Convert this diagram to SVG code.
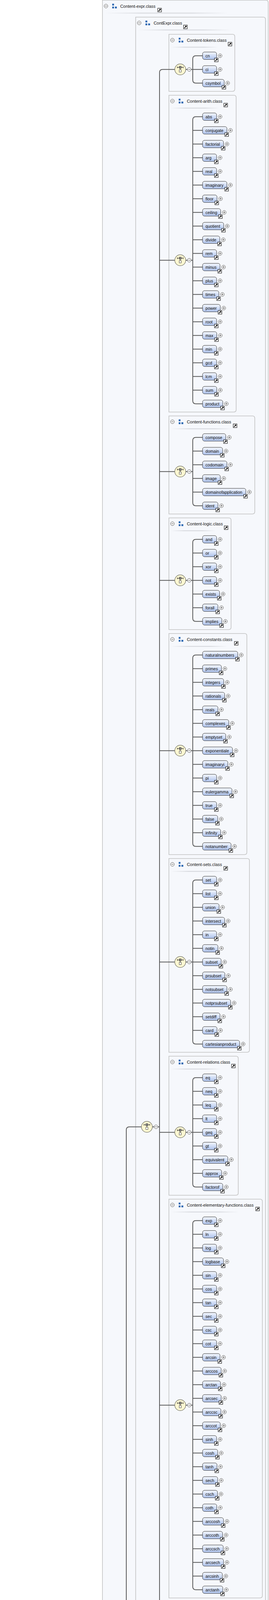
<svg xmlns="http://www.w3.org/2000/svg" width="688" height="6943" viewBox="0 0 688 6943">
<style>
text{font-family:"Liberation Sans",Arial,sans-serif;font-size:10.6px;fill:#111}
.ht{font-size:10.9px}
.gb{fill:#f6f8fc;stroke:#c2c2c2;stroke-width:1.6}
.el>rect{fill:url(#eg);stroke:#333;stroke-width:1}
.sep{fill:url(#sg)}
.cx path{fill:none;stroke:#5a5a5a;stroke-width:2}
</style>
<defs>
<linearGradient id="eg" x1="0" y1="0" x2="0" y2="1"><stop offset="0" stop-color="#f5f8fe"/><stop offset="1" stop-color="#adc2ec"/></linearGradient>
<linearGradient id="sg" x1="0" y1="0" x2="1" y2="0"><stop offset="0" stop-color="#f6f8fc"/><stop offset="0.3" stop-color="#d3d5da"/><stop offset="0.7" stop-color="#d3d5da"/><stop offset="1" stop-color="#f6f8fc"/></linearGradient>
<g id="sc"><rect x="0.5" y="0.5" width="9.5" height="9.5" fill="#fff" stroke="#000"/><path d="M2.5,8L6.3,4.2" stroke="#000" stroke-width="1.8"/><path d="M3.8,2.2H8.2V6.6Z" fill="#000"/></g>
<g id="pl"><circle r="4.8" fill="#fff" stroke="#444" stroke-width="0.9"/><path d="M-2.8,0H2.8M0,-2.8V2.8" stroke="#333" stroke-width="0.9"/></g>
<g id="mi"><circle r="4.8" fill="#fff" stroke="#444" stroke-width="0.9"/><path d="M-2.8,0H2.8" stroke="#333" stroke-width="0.9"/></g>
<g id="gi" fill="#2b67b1"><rect width="4.6" height="4.6"/><rect y="7.4" width="4.6" height="4.6"/><rect x="7" y="7.4" width="4.8" height="4.6"/></g>
<g id="ch"><ellipse rx="14" ry="14" fill="#fcf7d2" stroke="#6d6d5f" stroke-width="1.2"/><path d="M-7.5,-5.2H7.5M-7.5,-7.4V-3M7.5,-7.4V-3M0,-3V1" stroke="#222" stroke-width="1" fill="none"/><rect x="-2.7" y="-8" width="5.4" height="5.2" fill="#8c8c8c" stroke="#222" stroke-width="0.8"/><rect x="-2.7" y="1" width="5.4" height="5.8" fill="#fff" stroke="#222" stroke-width="0.8"/></g>
<g id="sq"><ellipse rx="14" ry="14" fill="#fcf7d2" stroke="#6d6d5f" stroke-width="1.2"/><path d="M-10,2H-6M6,-2H10" stroke="#222" stroke-width="1" fill="none"/><rect x="-6" y="-1" width="7" height="6" fill="#8c8c8c" stroke="#222" stroke-width="0.8"/><rect x="-1" y="-5" width="7" height="6" fill="#9a9a9a" stroke="#222" stroke-width="0.8"/></g>
</defs>
<rect width="688" height="6943" fill="#fff"/>

<g id="boxes">
<g id="g-Content-expr" transform="translate(262,0.5)"><path class="gb" d="M0,0H418Q424,0 424,6V6814Q424,6820 418,6820H0Z"/><use href="#mi" x="9" y="15"/><use href="#gi" x="25" y="9"/><text class="ht" x="45.5" y="19">Content-expr.class</text><use href="#sc" x="141" y="20"/><rect class="sep" x="6" y="32" width="316" height="2"/></g>
<g id="g-ContExpr" transform="translate(347,43.7)"><path class="gb" d="M0,0H326Q332,0 332,6V5562.5Q332,5568.5 326,5568.5H0Z"/><use href="#mi" x="9" y="15"/><use href="#gi" x="25" y="9"/><text class="ht" x="46" y="19">ContExpr.class</text><use href="#sc" x="122" y="20"/><rect class="sep" x="5" y="32" width="241" height="2"/></g>
<g id="g-Content-tokens" transform="translate(432,87.7)"><path class="gb" d="M0,0H162.5Q168.5,0 168.5,6V140Q168.5,146 162.5,146H0Z"/><use href="#mi" x="9" y="15"/><use href="#gi" x="25" y="9"/><text class="ht" x="46" y="19">Content-tokens.class</text><use href="#sc" x="151" y="20"/><rect class="sep" x="5" y="32" width="121.4" height="2"/></g>
<g id="g-Content-arith" transform="translate(432,243.7)"><path class="gb" d="M0,0H166Q172,0 172,6V805Q172,811 166,811H0Z"/><use href="#mi" x="9" y="15"/><use href="#gi" x="25" y="9"/><text class="ht" x="46" y="19">Content-arith.class</text><use href="#sc" x="140" y="20"/><rect class="sep" x="5" y="32" width="124" height="2"/></g>
<g id="g-Content-functions" transform="translate(432,1064.7)"><path class="gb" d="M0,0H213.6Q219.6,0 219.6,6V245Q219.6,251 213.6,251H0Z"/><use href="#mi" x="9" y="15"/><use href="#gi" x="25" y="9"/><text class="ht" x="46" y="19">Content-functions.class</text><use href="#sc" x="164" y="20"/><rect class="sep" x="5" y="32" width="159.7" height="2"/></g>
<g id="g-Content-logic" transform="translate(432,1325.7)"><path class="gb" d="M0,0H153Q159,0 159,6V280Q159,286 153,286H0Z"/><use href="#mi" x="9" y="15"/><use href="#gi" x="25" y="9"/><text class="ht" x="46" y="19">Content-logic.class</text><use href="#sc" x="141" y="20"/><rect class="sep" x="5" y="32" width="114.2" height="2"/></g>
<g id="g-Content-constants" transform="translate(432,1621.7)"><path class="gb" d="M0,0H193.4Q199.4,0 199.4,6V560Q199.4,566 193.4,566H0Z"/><use href="#mi" x="9" y="15"/><use href="#gi" x="25" y="9"/><text class="ht" x="46" y="19">Content-constants.class</text><use href="#sc" x="167" y="20"/><rect class="sep" x="5" y="32" width="144.5" height="2"/></g>
<g id="g-Content-sets" transform="translate(432,2197.7)"><path class="gb" d="M0,0H200Q206,0 206,6V490Q206,496 200,496H0Z"/><use href="#mi" x="9" y="15"/><use href="#gi" x="25" y="9"/><text class="ht" x="46" y="19">Content-sets.class</text><use href="#sc" x="140" y="20"/><rect class="sep" x="5" y="32" width="149.5" height="2"/></g>
<g id="g-Content-relations" transform="translate(432,2703.7)"><path class="gb" d="M0,0H171.4Q177.4,0 177.4,6V350Q177.4,356 171.4,356H0Z"/><use href="#mi" x="9" y="15"/><use href="#gi" x="25" y="9"/><text class="ht" x="46" y="19">Content-relations.class</text><use href="#sc" x="159.7" y="20"/><rect class="sep" x="5" y="32" width="128" height="2"/></g>
<g id="g-Content-elementary-functions" transform="translate(432,3069.7)"><path class="gb" d="M0,0H233Q239,0 239,6V1015Q239,1021 233,1021H0Z"/><use href="#mi" x="9" y="15"/><use href="#gi" x="25" y="9"/><text class="ht" x="46" y="19">Content-elementary-functions.class</text><use href="#sc" x="221.6" y="20"/><rect class="sep" x="5" y="32" width="174" height="2"/></g>
<g id="g-Content-calculus" transform="translate(432,4100.7)"><path class="gb" d="M0,0H170.5Q176.5,0 176.5,6V280Q176.5,286 170.5,286H0Z"/><use href="#mi" x="9" y="15"/><use href="#gi" x="25" y="9"/><text class="ht" x="46" y="19">Content-calculus.class</text><use href="#sc" x="159.2" y="20"/><rect class="sep" x="5" y="32" width="127.4" height="2"/></g>
<g id="g-Content-linear-algebra" transform="translate(432,4396.7)"><path class="gb" d="M0,0H196.4Q202.4,0 202.4,6V315Q202.4,321 196.4,321H0Z"/><use href="#mi" x="9" y="15"/><use href="#gi" x="25" y="9"/><text class="ht" x="46" y="19">Content-linear-algebra.class</text><use href="#sc" x="185" y="20"/><rect class="sep" x="5" y="32" width="146.8" height="2"/></g>
<g id="g-Content-vector-calculus" transform="translate(432,4727.7)"><path class="gb" d="M0,0H205.7Q211.7,0 211.7,6V175Q211.7,181 205.7,181H0Z"/><use href="#mi" x="9" y="15"/><use href="#gi" x="25" y="9"/><text class="ht" x="46" y="19">Content-vector-calculus.class</text><use href="#sc" x="194" y="20"/><rect class="sep" x="5" y="32" width="153.8" height="2"/></g>
<g id="g-Content-statistics" transform="translate(432,4918.7)"><path class="gb" d="M0,0H182Q188,0 188,6V280Q188,286 182,286H0Z"/><use href="#mi" x="9" y="15"/><use href="#gi" x="25" y="9"/><text class="ht" x="46" y="19">Content-statistics.class</text><use href="#sc" x="162" y="20"/><rect class="sep" x="5" y="32" width="136" height="2"/></g>
<g id="g-Content-constructs" transform="translate(432,5214.7)"><path class="gb" d="M0,0H182Q188,0 188,6V350Q188,356 182,356H0Z"/><use href="#mi" x="9" y="15"/><use href="#gi" x="25" y="9"/><text class="ht" x="46" y="19">Content-constructs.class</text><use href="#sc" x="171" y="20"/><rect class="sep" x="5" y="32" width="136" height="2"/></g>
<g id="g-PresExpr" transform="translate(347,5622.2)"><path class="gb" d="M0,0H275.3Q281.3,0 281.3,6V1184.8Q281.3,1190.8 275.3,1190.8H0Z"/><use href="#mi" x="9" y="15"/><use href="#gi" x="25" y="9"/><text class="ht" x="46" y="19">PresExpr.class</text><use href="#sc" x="122" y="20"/><rect class="sep" x="5" y="32" width="206" height="2"/></g>
<g id="g-Presentation-token" transform="translate(432,5666.5)"><path class="gb" d="M0,0H179.3Q185.3,0 185.3,6V210Q185.3,216 179.3,216H0Z"/><use href="#mi" x="9" y="15"/><use href="#gi" x="25" y="9"/><text class="ht" x="46" y="19">Presentation-token.class</text><use href="#sc" x="168" y="20"/><rect class="sep" x="5" y="32" width="134" height="2"/></g>
<g id="g-Presentation-layout" transform="translate(432,5892.5)"><path class="gb" d="M0,0H182Q188,0 188,6V315Q188,321 182,321H0Z"/><use href="#mi" x="9" y="15"/><use href="#gi" x="25" y="9"/><text class="ht" x="46" y="19">Presentation-layout.class</text><use href="#sc" x="171" y="20"/><rect class="sep" x="5" y="32" width="136" height="2"/></g>
<g id="g-Presentation-script" transform="translate(432,6223.5)"><path class="gb" d="M0,0H180Q186,0 186,6V280Q186,286 180,286H0Z"/><use href="#mi" x="9" y="15"/><use href="#gi" x="25" y="9"/><text class="ht" x="46" y="19">Presentation-script.class</text><use href="#sc" x="169.3" y="20"/><rect class="sep" x="5" y="32" width="134.5" height="2"/></g>
<g id="g-Presentation-table" transform="translate(432,6519.5)"><path class="gb" d="M0,0H176Q182,0 182,6V140Q182,146 176,146H0Z"/><use href="#mi" x="9" y="15"/><use href="#gi" x="25" y="9"/><text class="ht" x="46" y="19">Presentation-table.class</text><use href="#sc" x="165" y="20"/><rect class="sep" x="5" y="32" width="131.5" height="2"/></g>
<g id="g-Annotation" transform="translate(262,6830.5)"><path class="gb" d="M0,0H189Q195,0 195,6V105Q195,111 189,111H0Z"/><use href="#mi" x="9" y="15"/><use href="#gi" x="25" y="9"/><text class="ht" x="45.5" y="19">Annotation.class</text><use href="#sc" x="129.7" y="20"/><rect class="sep" x="6" y="32" width="140" height="2"/></g>
</g>

<g id="connectors" class="cx">
<path d="M128.7,5745.5H171.4M199.4,5745.5H217M276.4,4588.1H225Q217,4588.1 217,4596.1V6895Q217,6903 225,6903H276.4"/>
<path d="M304.4,4588.1H323M361.7,2884.7H331Q323,2884.7 323,2892.7V6283.5Q323,6291.5 331,6291.5H361.7"/>
<path d="M389.7,2884.7H408M447,177.7H416Q408,177.7 408,185.7V5583.7Q408,5591.7 416,5591.7H433M408,666.2H447M408,1207.2H447M408,1485.7H447M408,1921.7H447M408,2462.7H447M408,2898.7H447M408,3597.2H447M408,4260.7H447M408,4574.2H447M408,4835.2H447M408,5078.7H447M408,5409.7H447"/>
<path d="M389.7,6291.5H408M447,5791.5H416Q408,5791.5 408,5799.5V6783.5Q408,6791.5 416,6791.5H433M408,6070H447M408,6383.5H447M408,6609.5H447M408,6686.5H433M408,6721.5H433M408,6756.5H433"/>
<path d="M304.4,6903H323M348,6885.5H331Q323,6885.5 323,6893.5V6912.5Q323,6920.5 331,6920.5H348"/>
<path transform="translate(0,87.7)" d="M475,90H493M518,55H501Q493,55 493,63V117Q493,125 501,125H518M493,90H518"/>
<path transform="translate(0,243.7)" d="M475,422.5H493M518,55H501Q493,55 493,63V782Q493,790 501,790H518M493,90H518M493,125H518M493,160H518M493,195H518M493,230H518M493,265H518M493,300H518M493,335H518M493,370H518M493,405H518M493,440H518M493,475H518M493,510H518M493,545H518M493,580H518M493,615H518M493,650H518M493,685H518M493,720H518M493,755H518"/>
<path transform="translate(0,1064.7)" d="M475,142.5H493M518,55H501Q493,55 493,63V222Q493,230 501,230H518M493,90H518M493,125H518M493,160H518M493,195H518"/>
<path transform="translate(0,1325.7)" d="M475,160H493M518,55H501Q493,55 493,63V257Q493,265 501,265H518M493,90H518M493,125H518M493,160H518M493,195H518M493,230H518"/>
<path transform="translate(0,1621.7)" d="M475,300H493M518,55H501Q493,55 493,63V537Q493,545 501,545H518M493,90H518M493,125H518M493,160H518M493,195H518M493,230H518M493,265H518M493,300H518M493,335H518M493,370H518M493,405H518M493,440H518M493,475H518M493,510H518"/>
<path transform="translate(0,2197.7)" d="M475,265H493M518,55H501Q493,55 493,63V467Q493,475 501,475H518M493,90H518M493,125H518M493,160H518M493,195H518M493,230H518M493,265H518M493,300H518M493,335H518M493,370H518M493,405H518M493,440H518"/>
<path transform="translate(0,2703.7)" d="M475,195H493M518,55H501Q493,55 493,63V327Q493,335 501,335H518M493,90H518M493,125H518M493,160H518M493,195H518M493,230H518M493,265H518M493,300H518"/>
<path transform="translate(0,3069.7)" d="M475,527.5H493M518,55H501Q493,55 493,63V992Q493,1000 501,1000H518M493,90H518M493,125H518M493,160H518M493,195H518M493,230H518M493,265H518M493,300H518M493,335H518M493,370H518M493,405H518M493,440H518M493,475H518M493,510H518M493,545H518M493,580H518M493,615H518M493,650H518M493,685H518M493,720H518M493,755H518M493,790H518M493,825H518M493,860H518M493,895H518M493,930H518M493,965H518"/>
<path transform="translate(0,4100.7)" d="M475,160H493M518,55H501Q493,55 493,63V257Q493,265 501,265H518M493,90H518M493,125H518M493,160H518M493,195H518M493,230H518"/>
<path transform="translate(0,4396.7)" d="M475,177.5H493M518,55H501Q493,55 493,63V292Q493,300 501,300H518M493,90H518M493,125H518M493,160H518M493,195H518M493,230H518M493,265H518"/>
<path transform="translate(0,4727.7)" d="M475,107.5H493M518,55H501Q493,55 493,63V152Q493,160 501,160H518M493,90H518M493,125H518"/>
<path transform="translate(0,4918.7)" d="M475,160H493M518,55H501Q493,55 493,63V257Q493,265 501,265H518M493,90H518M493,125H518M493,160H518M493,195H518M493,230H518"/>
<path transform="translate(0,5214.7)" d="M475,195H493M518,55H501Q493,55 493,63V327Q493,335 501,335H518M493,90H518M493,125H518M493,160H518M493,195H518M493,230H518M493,265H518M493,300H518"/>
<path transform="translate(0,5666.5)" d="M475,125H493M518,55H501Q493,55 493,63V187Q493,195 501,195H518M493,90H518M493,125H518M493,160H518"/>
<path transform="translate(0,5892.5)" d="M475,177.5H493M518,55H501Q493,55 493,63V292Q493,300 501,300H518M493,90H518M493,125H518M493,160H518M493,195H518M493,230H518M493,265H518"/>
<path transform="translate(0,6223.5)" d="M475,160H493M518,55H501Q493,55 493,63V257Q493,265 501,265H518M493,90H518M493,125H518M493,160H518M493,195H518M493,230H518"/>
<path transform="translate(0,6519.5)" d="M475,90H493M518,55H501Q493,55 493,63V117Q493,125 501,125H518M493,90H518"/>
</g>
<text x="233.7" y="6899">1..∞</text>

<g id="compositors">
<g id="c-root"><use href="#sq" x="185.4" y="5745.5"/><use href="#mi" x="208.7" y="5745.5"/></g>
<g id="c-Content-expr"><use href="#ch" x="290.4" y="4588.1"/><use href="#mi" x="313.7" y="4588.1"/></g>
<g id="c-ContExpr"><use href="#ch" x="375.7" y="2884.7"/><use href="#mi" x="399" y="2884.7"/></g>
<g id="c-PresExpr"><use href="#ch" x="375.7" y="6291.5"/><use href="#mi" x="399" y="6291.5"/></g>
<g id="c-Annotation"><use href="#ch" x="290.4" y="6903"/><use href="#mi" x="313.7" y="6903"/></g>
<g id="c-tokens"><use href="#ch" x="461" y="177.7"/><use href="#mi" x="484" y="177.7"/></g>
<g id="c-arith"><use href="#ch" x="461" y="666.2"/><use href="#mi" x="484" y="666.2"/></g>
<g id="c-functions"><use href="#ch" x="461" y="1207.2"/><use href="#mi" x="484" y="1207.2"/></g>
<g id="c-logic"><use href="#ch" x="461" y="1485.7"/><use href="#mi" x="484" y="1485.7"/></g>
<g id="c-constants"><use href="#ch" x="461" y="1921.7"/><use href="#mi" x="484" y="1921.7"/></g>
<g id="c-sets"><use href="#ch" x="461" y="2462.7"/><use href="#mi" x="484" y="2462.7"/></g>
<g id="c-relations"><use href="#ch" x="461" y="2898.7"/><use href="#mi" x="484" y="2898.7"/></g>
<g id="c-elementary"><use href="#ch" x="461" y="3597.2"/><use href="#mi" x="484" y="3597.2"/></g>
<g id="c-calculus"><use href="#ch" x="461" y="4260.7"/><use href="#mi" x="484" y="4260.7"/></g>
<g id="c-linear"><use href="#ch" x="461" y="4574.2"/><use href="#mi" x="484" y="4574.2"/></g>
<g id="c-vector"><use href="#ch" x="461" y="4835.2"/><use href="#mi" x="484" y="4835.2"/></g>
<g id="c-statistics"><use href="#ch" x="461" y="5078.7"/><use href="#mi" x="484" y="5078.7"/></g>
<g id="c-constructs"><use href="#ch" x="461" y="5409.7"/><use href="#mi" x="484" y="5409.7"/></g>
<g id="c-ptoken"><use href="#ch" x="461" y="5791.5"/><use href="#mi" x="484" y="5791.5"/></g>
<g id="c-layout"><use href="#ch" x="461" y="6070"/><use href="#mi" x="484" y="6070"/></g>
<g id="c-script"><use href="#ch" x="461" y="6383.5"/><use href="#mi" x="484" y="6383.5"/></g>
<g id="c-table"><use href="#ch" x="461" y="6609.5"/><use href="#mi" x="484" y="6609.5"/></g>
</g>

<g id="e-semantics.content" class="el"><rect x="0.5" y="5735" width="128.2" height="21" rx="3"/><use href="#gi" x="10" y="5739.5"/><text x="31.6" y="5749.5">semantics.content</text><use href="#mi" x="137.5" y="5745.5"/></g>

<g id="e-cn" class="el" transform="translate(518,142.7)"><rect y="-9.5" width="36" height="19" rx="5"/><text x="7.5" y="4">cn</text><use href="#sc" x="30" y="5.5"/><use href="#pl" x="45"/></g>
<g id="e-ci" class="el" transform="translate(518,177.7)"><rect y="-9.5" width="36" height="19" rx="5"/><text x="7.5" y="4">ci</text><use href="#sc" x="30" y="5.5"/><use href="#pl" x="45"/></g>
<g id="e-csymbol" class="el" transform="translate(518,212.7)"><rect y="-9.5" width="55.4" height="19" rx="5"/><text x="7.5" y="4">csymbol</text><use href="#sc" x="49.4" y="5.5"/><use href="#pl" x="64.4"/></g>

<g id="e-abs" class="el" transform="translate(518,298.7)"><rect y="-9.5" width="36" height="19" rx="5"/><text x="7.5" y="4">abs</text><use href="#sc" x="30" y="5.5"/><use href="#pl" x="45"/></g>
<g id="e-conjugate" class="el" transform="translate(518,333.7)"><rect y="-9.5" width="62.5" height="19" rx="5"/><text x="7.5" y="4">conjugate</text><use href="#sc" x="56.5" y="5.5"/><use href="#pl" x="71.5"/></g>
<g id="e-factorial" class="el" transform="translate(518,368.7)"><rect y="-9.5" width="53.6" height="19" rx="5"/><text x="7.5" y="4">factorial</text><use href="#sc" x="47.6" y="5.5"/><use href="#pl" x="62.6"/></g>
<g id="e-arg" class="el" transform="translate(518,403.7)"><rect y="-9.5" width="36" height="19" rx="5"/><text x="7.5" y="4">arg</text><use href="#sc" x="30" y="5.5"/><use href="#pl" x="45"/></g>
<g id="e-real" class="el" transform="translate(518,438.7)"><rect y="-9.5" width="36" height="19" rx="5"/><text x="7.5" y="4">real</text><use href="#sc" x="30" y="5.5"/><use href="#pl" x="45"/></g>
<g id="e-imaginary" class="el" transform="translate(518,473.7)"><rect y="-9.5" width="62.4" height="19" rx="5"/><text x="7.5" y="4">imaginary</text><use href="#sc" x="56.4" y="5.5"/><use href="#pl" x="71.4"/></g>
<g id="e-floor" class="el" transform="translate(518,508.7)"><rect y="-9.5" width="37.1" height="19" rx="5"/><text x="7.5" y="4">floor</text><use href="#sc" x="31.1" y="5.5"/><use href="#pl" x="46.1"/></g>
<g id="e-ceiling" class="el" transform="translate(518,543.7)"><rect y="-9.5" width="46.5" height="19" rx="5"/><text x="7.5" y="4">ceiling</text><use href="#sc" x="40.5" y="5.5"/><use href="#pl" x="55.5"/></g>
<g id="e-quotient" class="el" transform="translate(518,578.7)"><rect y="-9.5" width="54.2" height="19" rx="5"/><text x="7.5" y="4">quotient</text><use href="#sc" x="48.2" y="5.5"/><use href="#pl" x="63.2"/></g>
<g id="e-divide" class="el" transform="translate(518,613.7)"><rect y="-9.5" width="44.2" height="19" rx="5"/><text x="7.5" y="4">divide</text><use href="#sc" x="38.2" y="5.5"/><use href="#pl" x="53.2"/></g>
<g id="e-rem" class="el" transform="translate(518,648.7)"><rect y="-9.5" width="36" height="19" rx="5"/><text x="7.5" y="4">rem</text><use href="#sc" x="30" y="5.5"/><use href="#pl" x="45"/></g>
<g id="e-minus" class="el" transform="translate(518,683.7)"><rect y="-9.5" width="44.8" height="19" rx="5"/><text x="7.5" y="4">minus</text><use href="#sc" x="38.8" y="5.5"/><use href="#pl" x="53.8"/></g>
<g id="e-plus" class="el" transform="translate(518,718.7)"><rect y="-9.5" width="36" height="19" rx="5"/><text x="7.5" y="4">plus</text><use href="#sc" x="30" y="5.5"/><use href="#pl" x="45"/></g>
<g id="e-times" class="el" transform="translate(518,753.7)"><rect y="-9.5" width="41.8" height="19" rx="5"/><text x="7.5" y="4">times</text><use href="#sc" x="35.8" y="5.5"/><use href="#pl" x="50.8"/></g>
<g id="e-power" class="el" transform="translate(518,788.7)"><rect y="-9.5" width="45.4" height="19" rx="5"/><text x="7.5" y="4">power</text><use href="#sc" x="39.4" y="5.5"/><use href="#pl" x="54.4"/></g>
<g id="e-root" class="el" transform="translate(518,823.7)"><rect y="-9.5" width="36" height="19" rx="5"/><text x="7.5" y="4">root</text><use href="#sc" x="30" y="5.5"/><use href="#pl" x="45"/></g>
<g id="e-max" class="el" transform="translate(518,858.7)"><rect y="-9.5" width="36.5" height="19" rx="5"/><text x="7.5" y="4">max</text><use href="#sc" x="30.5" y="5.5"/><use href="#pl" x="45.5"/></g>
<g id="e-min" class="el" transform="translate(518,893.7)"><rect y="-9.5" width="36" height="19" rx="5"/><text x="7.5" y="4">min</text><use href="#sc" x="30" y="5.5"/><use href="#pl" x="45"/></g>
<g id="e-gcd" class="el" transform="translate(518,928.7)"><rect y="-9.5" width="36" height="19" rx="5"/><text x="7.5" y="4">gcd</text><use href="#sc" x="30" y="5.5"/><use href="#pl" x="45"/></g>
<g id="e-lcm" class="el" transform="translate(518,963.7)"><rect y="-9.5" width="36" height="19" rx="5"/><text x="7.5" y="4">lcm</text><use href="#sc" x="30" y="5.5"/><use href="#pl" x="45"/></g>
<g id="e-sum" class="el" transform="translate(518,998.7)"><rect y="-9.5" width="36.5" height="19" rx="5"/><text x="7.5" y="4">sum</text><use href="#sc" x="30.5" y="5.5"/><use href="#pl" x="45.5"/></g>
<g id="e-product" class="el" transform="translate(518,1033.7)"><rect y="-9.5" width="51.9" height="19" rx="5"/><text x="7.5" y="4">product</text><use href="#sc" x="45.9" y="5.5"/><use href="#pl" x="60.9"/></g>

<g id="e-compose" class="el" transform="translate(518,1119.7)"><rect y="-9.5" width="59.5" height="19" rx="5"/><text x="7.5" y="4">compose</text><use href="#sc" x="53.5" y="5.5"/><use href="#pl" x="68.5"/></g>
<g id="e-domain" class="el" transform="translate(518,1154.7)"><rect y="-9.5" width="51.3" height="19" rx="5"/><text x="7.5" y="4">domain</text><use href="#sc" x="45.3" y="5.5"/><use href="#pl" x="60.3"/></g>
<g id="e-codomain" class="el" transform="translate(518,1189.7)"><rect y="-9.5" width="62.5" height="19" rx="5"/><text x="7.5" y="4">codomain</text><use href="#sc" x="56.5" y="5.5"/><use href="#pl" x="71.5"/></g>
<g id="e-image" class="el" transform="translate(518,1224.7)"><rect y="-9.5" width="45.4" height="19" rx="5"/><text x="7.5" y="4">image</text><use href="#sc" x="39.4" y="5.5"/><use href="#pl" x="54.4"/></g>
<g id="e-domainofapplication" class="el" transform="translate(518,1259.7)"><rect y="-9.5" width="110.8" height="19" rx="5"/><text x="7.5" y="4">domainofapplication</text><use href="#sc" x="104.8" y="5.5"/><use href="#pl" x="119.8"/></g>
<g id="e-ident" class="el" transform="translate(518,1294.7)"><rect y="-9.5" width="39.5" height="19" rx="5"/><text x="7.5" y="4">ident</text><use href="#sc" x="33.5" y="5.5"/><use href="#pl" x="48.5"/></g>

<g id="e-and" class="el" transform="translate(518,1380.7)"><rect y="-9.5" width="36" height="19" rx="5"/><text x="7.5" y="4">and</text><use href="#sc" x="30" y="5.5"/><use href="#pl" x="45"/></g>
<g id="e-or" class="el" transform="translate(518,1415.7)"><rect y="-9.5" width="36" height="19" rx="5"/><text x="7.5" y="4">or</text><use href="#sc" x="30" y="5.5"/><use href="#pl" x="45"/></g>
<g id="e-xor" class="el" transform="translate(518,1450.7)"><rect y="-9.5" width="36" height="19" rx="5"/><text x="7.5" y="4">xor</text><use href="#sc" x="30" y="5.5"/><use href="#pl" x="45"/></g>
<g id="e-not" class="el" transform="translate(518,1485.7)"><rect y="-9.5" width="36" height="19" rx="5"/><text x="7.5" y="4">not</text><use href="#sc" x="30" y="5.5"/><use href="#pl" x="45"/></g>
<g id="e-exists" class="el" transform="translate(518,1520.7)"><rect y="-9.5" width="43.6" height="19" rx="5"/><text x="7.5" y="4">exists</text><use href="#sc" x="37.6" y="5.5"/><use href="#pl" x="52.6"/></g>
<g id="e-forall" class="el" transform="translate(518,1555.7)"><rect y="-9.5" width="39.5" height="19" rx="5"/><text x="7.5" y="4">forall</text><use href="#sc" x="33.5" y="5.5"/><use href="#pl" x="48.5"/></g>
<g id="e-implies" class="el" transform="translate(518,1590.7)"><rect y="-9.5" width="49.5" height="19" rx="5"/><text x="7.5" y="4">implies</text><use href="#sc" x="43.5" y="5.5"/><use href="#pl" x="58.5"/></g>

<g id="e-naturalnumbers" class="el" transform="translate(518,1676.7)"><rect y="-9.5" width="90.1" height="19" rx="5"/><text x="7.5" y="4">naturalnumbers</text><use href="#sc" x="84.1" y="5.5"/><use href="#pl" x="99.1"/></g>
<g id="e-primes" class="el" transform="translate(518,1711.7)"><rect y="-9.5" width="48.3" height="19" rx="5"/><text x="7.5" y="4">primes</text><use href="#sc" x="42.3" y="5.5"/><use href="#pl" x="57.3"/></g>
<g id="e-integers" class="el" transform="translate(518,1746.7)"><rect y="-9.5" width="54.2" height="19" rx="5"/><text x="7.5" y="4">integers</text><use href="#sc" x="48.2" y="5.5"/><use href="#pl" x="63.2"/></g>
<g id="e-rationals" class="el" transform="translate(518,1781.7)"><rect y="-9.5" width="56.6" height="19" rx="5"/><text x="7.5" y="4">rationals</text><use href="#sc" x="50.6" y="5.5"/><use href="#pl" x="65.6"/></g>
<g id="e-reals" class="el" transform="translate(518,1816.7)"><rect y="-9.5" width="39.5" height="19" rx="5"/><text x="7.5" y="4">reals</text><use href="#sc" x="33.5" y="5.5"/><use href="#pl" x="48.5"/></g>
<g id="e-complexes" class="el" transform="translate(518,1851.7)"><rect y="-9.5" width="67.2" height="19" rx="5"/><text x="7.5" y="4">complexes</text><use href="#sc" x="61.2" y="5.5"/><use href="#pl" x="76.2"/></g>
<g id="e-emptyset" class="el" transform="translate(518,1886.7)"><rect y="-9.5" width="59.5" height="19" rx="5"/><text x="7.5" y="4">emptyset</text><use href="#sc" x="53.5" y="5.5"/><use href="#pl" x="68.5"/></g>
<g id="e-exponentiale" class="el" transform="translate(518,1921.7)"><rect y="-9.5" width="76.6" height="19" rx="5"/><text x="7.5" y="4">exponentiale</text><use href="#sc" x="70.6" y="5.5"/><use href="#pl" x="85.6"/></g>
<g id="e-imaginaryi" class="el" transform="translate(518,1956.7)"><rect y="-9.5" width="64.8" height="19" rx="5"/><text x="7.5" y="4">imaginaryi</text><use href="#sc" x="58.8" y="5.5"/><use href="#pl" x="73.8"/></g>
<g id="e-pi" class="el" transform="translate(518,1991.7)"><rect y="-9.5" width="36" height="19" rx="5"/><text x="7.5" y="4">pi</text><use href="#sc" x="30" y="5.5"/><use href="#pl" x="45"/></g>
<g id="e-eulergamma" class="el" transform="translate(518,2026.7)"><rect y="-9.5" width="75.4" height="19" rx="5"/><text x="7.5" y="4">eulergamma</text><use href="#sc" x="69.4" y="5.5"/><use href="#pl" x="84.4"/></g>
<g id="e-true" class="el" transform="translate(518,2061.7)"><rect y="-9.5" width="36" height="19" rx="5"/><text x="7.5" y="4">true</text><use href="#sc" x="30" y="5.5"/><use href="#pl" x="45"/></g>
<g id="e-false" class="el" transform="translate(518,2096.7)"><rect y="-9.5" width="38.9" height="19" rx="5"/><text x="7.5" y="4">false</text><use href="#sc" x="32.9" y="5.5"/><use href="#pl" x="47.9"/></g>
<g id="e-infinity" class="el" transform="translate(518,2131.7)"><rect y="-9.5" width="46.5" height="19" rx="5"/><text x="7.5" y="4">infinity</text><use href="#sc" x="40.5" y="5.5"/><use href="#pl" x="55.5"/></g>
<g id="e-notanumber" class="el" transform="translate(518,2166.7)"><rect y="-9.5" width="73.1" height="19" rx="5"/><text x="7.5" y="4">notanumber</text><use href="#sc" x="67.1" y="5.5"/><use href="#pl" x="82.1"/></g>

<g id="e-set" class="el" transform="translate(518,2252.7)"><rect y="-9.5" width="36" height="19" rx="5"/><text x="7.5" y="4">set</text><use href="#sc" x="30" y="5.5"/><use href="#pl" x="45"/></g>
<g id="e-list" class="el" transform="translate(518,2287.7)"><rect y="-9.5" width="36" height="19" rx="5"/><text x="7.5" y="4">list</text><use href="#sc" x="30" y="5.5"/><use href="#pl" x="45"/></g>
<g id="e-union" class="el" transform="translate(518,2322.7)"><rect y="-9.5" width="42.4" height="19" rx="5"/><text x="7.5" y="4">union</text><use href="#sc" x="36.4" y="5.5"/><use href="#pl" x="51.4"/></g>
<g id="e-intersect" class="el" transform="translate(518,2357.7)"><rect y="-9.5" width="56.6" height="19" rx="5"/><text x="7.5" y="4">intersect</text><use href="#sc" x="50.6" y="5.5"/><use href="#pl" x="65.6"/></g>
<g id="e-in" class="el" transform="translate(518,2392.7)"><rect y="-9.5" width="36" height="19" rx="5"/><text x="7.5" y="4">in</text><use href="#sc" x="30" y="5.5"/><use href="#pl" x="45"/></g>
<g id="e-notin" class="el" transform="translate(518,2427.7)"><rect y="-9.5" width="39.5" height="19" rx="5"/><text x="7.5" y="4">notin</text><use href="#sc" x="33.5" y="5.5"/><use href="#pl" x="48.5"/></g>
<g id="e-subset" class="el" transform="translate(518,2462.7)"><rect y="-9.5" width="47.7" height="19" rx="5"/><text x="7.5" y="4">subset</text><use href="#sc" x="41.7" y="5.5"/><use href="#pl" x="56.7"/></g>
<g id="e-prsubset" class="el" transform="translate(518,2497.7)"><rect y="-9.5" width="57.2" height="19" rx="5"/><text x="7.5" y="4">prsubset</text><use href="#sc" x="51.2" y="5.5"/><use href="#pl" x="66.2"/></g>
<g id="e-notsubset" class="el" transform="translate(518,2532.7)"><rect y="-9.5" width="62.5" height="19" rx="5"/><text x="7.5" y="4">notsubset</text><use href="#sc" x="56.5" y="5.5"/><use href="#pl" x="71.5"/></g>
<g id="e-notprsubset" class="el" transform="translate(518,2567.7)"><rect y="-9.5" width="71.9" height="19" rx="5"/><text x="7.5" y="4">notprsubset</text><use href="#sc" x="65.9" y="5.5"/><use href="#pl" x="80.9"/></g>
<g id="e-setdiff" class="el" transform="translate(518,2602.7)"><rect y="-9.5" width="44.8" height="19" rx="5"/><text x="7.5" y="4">setdiff</text><use href="#sc" x="38.8" y="5.5"/><use href="#pl" x="53.8"/></g>
<g id="e-card" class="el" transform="translate(518,2637.7)"><rect y="-9.5" width="37.1" height="19" rx="5"/><text x="7.5" y="4">card</text><use href="#sc" x="31.1" y="5.5"/><use href="#pl" x="46.1"/></g>
<g id="e-cartesianproduct" class="el" transform="translate(518,2672.7)"><rect y="-9.5" width="94.9" height="19" rx="5"/><text x="7.5" y="4">cartesianproduct</text><use href="#sc" x="88.9" y="5.5"/><use href="#pl" x="103.9"/></g>

<g id="e-eq" class="el" transform="translate(518,2758.7)"><rect y="-9.5" width="36" height="19" rx="5"/><text x="7.5" y="4">eq</text><use href="#sc" x="30" y="5.5"/><use href="#pl" x="45"/></g>
<g id="e-neq" class="el" transform="translate(518,2793.7)"><rect y="-9.5" width="36" height="19" rx="5"/><text x="7.5" y="4">neq</text><use href="#sc" x="30" y="5.5"/><use href="#pl" x="45"/></g>
<g id="e-leq" class="el" transform="translate(518,2828.7)"><rect y="-9.5" width="36" height="19" rx="5"/><text x="7.5" y="4">leq</text><use href="#sc" x="30" y="5.5"/><use href="#pl" x="45"/></g>
<g id="e-lt" class="el" transform="translate(518,2863.7)"><rect y="-9.5" width="36" height="19" rx="5"/><text x="7.5" y="4">lt</text><use href="#sc" x="30" y="5.5"/><use href="#pl" x="45"/></g>
<g id="e-geq" class="el" transform="translate(518,2898.7)"><rect y="-9.5" width="36" height="19" rx="5"/><text x="7.5" y="4">geq</text><use href="#sc" x="30" y="5.5"/><use href="#pl" x="45"/></g>
<g id="e-gt" class="el" transform="translate(518,2933.7)"><rect y="-9.5" width="36" height="19" rx="5"/><text x="7.5" y="4">gt</text><use href="#sc" x="30" y="5.5"/><use href="#pl" x="45"/></g>
<g id="e-equivalent" class="el" transform="translate(518,2968.7)"><rect y="-9.5" width="64.8" height="19" rx="5"/><text x="7.5" y="4">equivalent</text><use href="#sc" x="58.8" y="5.5"/><use href="#pl" x="73.8"/></g>
<g id="e-approx" class="el" transform="translate(518,3003.7)"><rect y="-9.5" width="48.9" height="19" rx="5"/><text x="7.5" y="4">approx</text><use href="#sc" x="42.9" y="5.5"/><use href="#pl" x="57.9"/></g>
<g id="e-factorof" class="el" transform="translate(518,3038.7)"><rect y="-9.5" width="51.9" height="19" rx="5"/><text x="7.5" y="4">factorof</text><use href="#sc" x="45.9" y="5.5"/><use href="#pl" x="60.9"/></g>

<g id="e-exp" class="el" transform="translate(518,3124.7)"><rect y="-9.5" width="36" height="19" rx="5"/><text x="7.5" y="4">exp</text><use href="#sc" x="30" y="5.5"/><use href="#pl" x="45"/></g>
<g id="e-ln" class="el" transform="translate(518,3159.7)"><rect y="-9.5" width="36" height="19" rx="5"/><text x="7.5" y="4">ln</text><use href="#sc" x="30" y="5.5"/><use href="#pl" x="45"/></g>
<g id="e-log" class="el" transform="translate(518,3194.7)"><rect y="-9.5" width="36" height="19" rx="5"/><text x="7.5" y="4">log</text><use href="#sc" x="30" y="5.5"/><use href="#pl" x="45"/></g>
<g id="e-logbase" class="el" transform="translate(518,3229.7)"><rect y="-9.5" width="53.6" height="19" rx="5"/><text x="7.5" y="4">logbase</text><use href="#sc" x="47.6" y="5.5"/><use href="#pl" x="62.6"/></g>
<g id="e-sin" class="el" transform="translate(518,3264.7)"><rect y="-9.5" width="36" height="19" rx="5"/><text x="7.5" y="4">sin</text><use href="#sc" x="30" y="5.5"/><use href="#pl" x="45"/></g>
<g id="e-cos" class="el" transform="translate(518,3299.7)"><rect y="-9.5" width="36" height="19" rx="5"/><text x="7.5" y="4">cos</text><use href="#sc" x="30" y="5.5"/><use href="#pl" x="45"/></g>
<g id="e-tan" class="el" transform="translate(518,3334.7)"><rect y="-9.5" width="36" height="19" rx="5"/><text x="7.5" y="4">tan</text><use href="#sc" x="30" y="5.5"/><use href="#pl" x="45"/></g>
<g id="e-sec" class="el" transform="translate(518,3369.7)"><rect y="-9.5" width="36" height="19" rx="5"/><text x="7.5" y="4">sec</text><use href="#sc" x="30" y="5.5"/><use href="#pl" x="45"/></g>
<g id="e-csc" class="el" transform="translate(518,3404.7)"><rect y="-9.5" width="36" height="19" rx="5"/><text x="7.5" y="4">csc</text><use href="#sc" x="30" y="5.5"/><use href="#pl" x="45"/></g>
<g id="e-cot" class="el" transform="translate(518,3439.7)"><rect y="-9.5" width="36" height="19" rx="5"/><text x="7.5" y="4">cot</text><use href="#sc" x="30" y="5.5"/><use href="#pl" x="45"/></g>
<g id="e-arcsin" class="el" transform="translate(518,3474.7)"><rect y="-9.5" width="44.8" height="19" rx="5"/><text x="7.5" y="4">arcsin</text><use href="#sc" x="38.8" y="5.5"/><use href="#pl" x="53.8"/></g>
<g id="e-arccos" class="el" transform="translate(518,3509.7)"><rect y="-9.5" width="47.7" height="19" rx="5"/><text x="7.5" y="4">arccos</text><use href="#sc" x="41.7" y="5.5"/><use href="#pl" x="56.7"/></g>
<g id="e-arctan" class="el" transform="translate(518,3544.7)"><rect y="-9.5" width="46" height="19" rx="5"/><text x="7.5" y="4">arctan</text><use href="#sc" x="40" y="5.5"/><use href="#pl" x="55"/></g>
<g id="e-arcsec" class="el" transform="translate(518,3579.7)"><rect y="-9.5" width="47.7" height="19" rx="5"/><text x="7.5" y="4">arcsec</text><use href="#sc" x="41.7" y="5.5"/><use href="#pl" x="56.7"/></g>
<g id="e-arccsc" class="el" transform="translate(518,3614.7)"><rect y="-9.5" width="47.1" height="19" rx="5"/><text x="7.5" y="4">arccsc</text><use href="#sc" x="41.1" y="5.5"/><use href="#pl" x="56.1"/></g>
<g id="e-arccot" class="el" transform="translate(518,3649.7)"><rect y="-9.5" width="45.4" height="19" rx="5"/><text x="7.5" y="4">arccot</text><use href="#sc" x="39.4" y="5.5"/><use href="#pl" x="54.4"/></g>
<g id="e-sinh" class="el" transform="translate(518,3684.7)"><rect y="-9.5" width="36" height="19" rx="5"/><text x="7.5" y="4">sinh</text><use href="#sc" x="30" y="5.5"/><use href="#pl" x="45"/></g>
<g id="e-cosh" class="el" transform="translate(518,3719.7)"><rect y="-9.5" width="38.9" height="19" rx="5"/><text x="7.5" y="4">cosh</text><use href="#sc" x="32.9" y="5.5"/><use href="#pl" x="47.9"/></g>
<g id="e-tanh" class="el" transform="translate(518,3754.7)"><rect y="-9.5" width="37.1" height="19" rx="5"/><text x="7.5" y="4">tanh</text><use href="#sc" x="31.1" y="5.5"/><use href="#pl" x="46.1"/></g>
<g id="e-sech" class="el" transform="translate(518,3789.7)"><rect y="-9.5" width="38.9" height="19" rx="5"/><text x="7.5" y="4">sech</text><use href="#sc" x="32.9" y="5.5"/><use href="#pl" x="47.9"/></g>
<g id="e-csch" class="el" transform="translate(518,3824.7)"><rect y="-9.5" width="38.3" height="19" rx="5"/><text x="7.5" y="4">csch</text><use href="#sc" x="32.3" y="5.5"/><use href="#pl" x="47.3"/></g>
<g id="e-coth" class="el" transform="translate(518,3859.7)"><rect y="-9.5" width="36.5" height="19" rx="5"/><text x="7.5" y="4">coth</text><use href="#sc" x="30.5" y="5.5"/><use href="#pl" x="45.5"/></g>
<g id="e-arccosh" class="el" transform="translate(518,3894.7)"><rect y="-9.5" width="53.6" height="19" rx="5"/><text x="7.5" y="4">arccosh</text><use href="#sc" x="47.6" y="5.5"/><use href="#pl" x="62.6"/></g>
<g id="e-arccoth" class="el" transform="translate(518,3929.7)"><rect y="-9.5" width="51.3" height="19" rx="5"/><text x="7.5" y="4">arccoth</text><use href="#sc" x="45.3" y="5.5"/><use href="#pl" x="60.3"/></g>
<g id="e-arccsch" class="el" transform="translate(518,3964.7)"><rect y="-9.5" width="53" height="19" rx="5"/><text x="7.5" y="4">arccsch</text><use href="#sc" x="47" y="5.5"/><use href="#pl" x="62"/></g>
<g id="e-arcsech" class="el" transform="translate(518,3999.7)"><rect y="-9.5" width="53.6" height="19" rx="5"/><text x="7.5" y="4">arcsech</text><use href="#sc" x="47.6" y="5.5"/><use href="#pl" x="62.6"/></g>
<g id="e-arcsinh" class="el" transform="translate(518,4034.7)"><rect y="-9.5" width="50.7" height="19" rx="5"/><text x="7.5" y="4">arcsinh</text><use href="#sc" x="44.7" y="5.5"/><use href="#pl" x="59.7"/></g>
<g id="e-arctanh" class="el" transform="translate(518,4069.7)"><rect y="-9.5" width="51.9" height="19" rx="5"/><text x="7.5" y="4">arctanh</text><use href="#sc" x="45.9" y="5.5"/><use href="#pl" x="60.9"/></g>

<g id="e-int" class="el" transform="translate(518,4155.7)"><rect y="-9.5" width="36" height="19" rx="5"/><text x="7.5" y="4">int</text><use href="#sc" x="30" y="5.5"/><use href="#pl" x="45"/></g>
<g id="e-diff" class="el" transform="translate(518,4190.7)"><rect y="-9.5" width="36" height="19" rx="5"/><text x="7.5" y="4">diff</text><use href="#sc" x="30" y="5.5"/><use href="#pl" x="45"/></g>
<g id="e-partialdiff" class="el" transform="translate(518,4225.7)"><rect y="-9.5" width="59.5" height="19" rx="5"/><text x="7.5" y="4">partialdiff</text><use href="#sc" x="53.5" y="5.5"/><use href="#pl" x="68.5"/></g>
<g id="e-limit" class="el" transform="translate(518,4260.7)"><rect y="-9.5" width="36" height="19" rx="5"/><text x="7.5" y="4">limit</text><use href="#sc" x="30" y="5.5"/><use href="#pl" x="45"/></g>
<g id="e-lowlimit" class="el" transform="translate(518,4295.7)"><rect y="-9.5" width="51.2" height="19" rx="5"/><text x="7.5" y="4">lowlimit</text><use href="#sc" x="45.2" y="5.5"/><use href="#pl" x="60.2"/></g>
<g id="e-uplimit" class="el" transform="translate(518,4330.7)"><rect y="-9.5" width="47.1" height="19" rx="5"/><text x="7.5" y="4">uplimit</text><use href="#sc" x="41.1" y="5.5"/><use href="#pl" x="56.1"/></g>
<g id="e-tendsto" class="el" transform="translate(518,4365.7)"><rect y="-9.5" width="51.3" height="19" rx="5"/><text x="7.5" y="4">tendsto</text><use href="#sc" x="45.3" y="5.5"/><use href="#pl" x="60.3"/></g>

<g id="e-vector" class="el" transform="translate(518,4451.7)"><rect y="-9.5" width="45.4" height="19" rx="5"/><text x="7.5" y="4">vector</text><use href="#sc" x="39.4" y="5.5"/><use href="#pl" x="54.4"/></g>
<g id="e-matrix" class="el" transform="translate(518,4486.7)"><rect y="-9.5" width="45.4" height="19" rx="5"/><text x="7.5" y="4">matrix</text><use href="#sc" x="39.4" y="5.5"/><use href="#pl" x="54.4"/></g>
<g id="e-determinant" class="el" transform="translate(518,4521.7)"><rect y="-9.5" width="72.5" height="19" rx="5"/><text x="7.5" y="4">determinant</text><use href="#sc" x="66.5" y="5.5"/><use href="#pl" x="81.5"/></g>
<g id="e-transpose" class="el" transform="translate(518,4556.7)"><rect y="-9.5" width="63" height="19" rx="5"/><text x="7.5" y="4">transpose</text><use href="#sc" x="57" y="5.5"/><use href="#pl" x="72"/></g>
<g id="e-selector" class="el" transform="translate(518,4591.7)"><rect y="-9.5" width="53.6" height="19" rx="5"/><text x="7.5" y="4">selector</text><use href="#sc" x="47.6" y="5.5"/><use href="#pl" x="62.6"/></g>
<g id="e-vectorproduct" class="el" transform="translate(518,4626.7)"><rect y="-9.5" width="80.7" height="19" rx="5"/><text x="7.5" y="4">vectorproduct</text><use href="#sc" x="74.7" y="5.5"/><use href="#pl" x="89.7"/></g>
<g id="e-scalarproduct" class="el" transform="translate(518,4661.7)"><rect y="-9.5" width="80.1" height="19" rx="5"/><text x="7.5" y="4">scalarproduct</text><use href="#sc" x="74.1" y="5.5"/><use href="#pl" x="89.1"/></g>
<g id="e-outerproduct" class="el" transform="translate(518,4696.7)"><rect y="-9.5" width="76" height="19" rx="5"/><text x="7.5" y="4">outerproduct</text><use href="#sc" x="70" y="5.5"/><use href="#pl" x="85"/></g>

<g id="e-divergence" class="el" transform="translate(518,4782.7)"><rect y="-9.5" width="67.8" height="19" rx="5"/><text x="7.5" y="4">divergence</text><use href="#sc" x="61.8" y="5.5"/><use href="#pl" x="76.8"/></g>
<g id="e-grad" class="el" transform="translate(518,4817.7)"><rect y="-9.5" width="37.7" height="19" rx="5"/><text x="7.5" y="4">grad</text><use href="#sc" x="31.7" y="5.5"/><use href="#pl" x="46.7"/></g>
<g id="e-curl" class="el" transform="translate(518,4852.7)"><rect y="-9.5" width="36" height="19" rx="5"/><text x="7.5" y="4">curl</text><use href="#sc" x="30" y="5.5"/><use href="#pl" x="45"/></g>
<g id="e-laplacian" class="el" transform="translate(518,4887.7)"><rect y="-9.5" width="58.3" height="19" rx="5"/><text x="7.5" y="4">laplacian</text><use href="#sc" x="52.3" y="5.5"/><use href="#pl" x="67.3"/></g>

<g id="e-mean" class="el" transform="translate(518,4973.7)"><rect y="-9.5" width="43" height="19" rx="5"/><text x="7.5" y="4">mean</text><use href="#sc" x="37" y="5.5"/><use href="#pl" x="52"/></g>
<g id="e-sdev" class="el" transform="translate(518,5008.7)"><rect y="-9.5" width="38.9" height="19" rx="5"/><text x="7.5" y="4">sdev</text><use href="#sc" x="32.9" y="5.5"/><use href="#pl" x="47.9"/></g>
<g id="e-variance" class="el" transform="translate(518,5043.7)"><rect y="-9.5" width="56.6" height="19" rx="5"/><text x="7.5" y="4">variance</text><use href="#sc" x="50.6" y="5.5"/><use href="#pl" x="65.6"/></g>
<g id="e-median" class="el" transform="translate(518,5078.7)"><rect y="-9.5" width="51.3" height="19" rx="5"/><text x="7.5" y="4">median</text><use href="#sc" x="45.3" y="5.5"/><use href="#pl" x="60.3"/></g>
<g id="e-mode" class="el" transform="translate(518,5113.7)"><rect y="-9.5" width="43" height="19" rx="5"/><text x="7.5" y="4">mode</text><use href="#sc" x="37" y="5.5"/><use href="#pl" x="52"/></g>
<g id="e-moment" class="el" transform="translate(518,5148.7)"><rect y="-9.5" width="54.8" height="19" rx="5"/><text x="7.5" y="4">moment</text><use href="#sc" x="48.8" y="5.5"/><use href="#pl" x="63.8"/></g>
<g id="e-momentabout" class="el" transform="translate(518,5183.7)"><rect y="-9.5" width="81.3" height="19" rx="5"/><text x="7.5" y="4">momentabout</text><use href="#sc" x="75.3" y="5.5"/><use href="#pl" x="90.3"/></g>

<g id="e-apply" class="el" transform="translate(518,5269.7)"><rect y="-9.5" width="41.8" height="19" rx="5"/><text x="7.5" y="4">apply</text><use href="#sc" x="35.8" y="5.5"/><use href="#pl" x="50.8"/></g>
<g id="e-interval" class="el" transform="translate(518,5304.7)"><rect y="-9.5" width="50.7" height="19" rx="5"/><text x="7.5" y="4">interval</text><use href="#sc" x="44.7" y="5.5"/><use href="#pl" x="59.7"/></g>
<g id="e-inverse" class="el" transform="translate(518,5339.7)"><rect y="-9.5" width="50.6" height="19" rx="5"/><text x="7.5" y="4">inverse</text><use href="#sc" x="44.6" y="5.5"/><use href="#pl" x="59.6"/></g>
<g id="e-condition" class="el" transform="translate(518,5374.7)"><rect y="-9.5" width="58.3" height="19" rx="5"/><text x="7.5" y="4">condition</text><use href="#sc" x="52.3" y="5.5"/><use href="#pl" x="67.3"/></g>
<g id="e-declare" class="el" transform="translate(518,5409.7)"><rect y="-9.5" width="51.3" height="19" rx="5"/><text x="7.5" y="4">declare</text><use href="#sc" x="45.3" y="5.5"/><use href="#pl" x="60.3"/></g>
<g id="e-lambda" class="el" transform="translate(518,5444.7)"><rect y="-9.5" width="51.3" height="19" rx="5"/><text x="7.5" y="4">lambda</text><use href="#sc" x="45.3" y="5.5"/><use href="#pl" x="60.3"/></g>
<g id="e-piecewise" class="el" transform="translate(518,5479.7)"><rect y="-9.5" width="63" height="19" rx="5"/><text x="7.5" y="4">piecewise</text><use href="#sc" x="57" y="5.5"/><use href="#pl" x="72"/></g>
<g id="e-bvar" class="el" transform="translate(518,5514.7)"><rect y="-9.5" width="37.1" height="19" rx="5"/><text x="7.5" y="4">bvar</text><use href="#sc" x="31.1" y="5.5"/><use href="#pl" x="46.1"/></g>
<g id="e-degree" class="el" transform="translate(518,5549.7)"><rect y="-9.5" width="48.3" height="19" rx="5"/><text x="7.5" y="4">degree</text><use href="#sc" x="42.3" y="5.5"/><use href="#pl" x="57.3"/></g>

<g id="e-semantics" class="el" transform="translate(433,5591.7)"><rect y="-9.5" width="65" height="19" rx="5"/><text x="7.5" y="4">semantics</text><use href="#sc" x="59" y="5.5"/><use href="#pl" x="74"/></g>

<g id="e-mi" class="el" transform="translate(518,5721.5)"><rect y="-9.5" width="36" height="19" rx="5"/><text x="7.5" y="4">mi</text><use href="#sc" x="30" y="5.5"/><use href="#pl" x="45"/></g>
<g id="e-mo" class="el" transform="translate(518,5756.5)"><rect y="-9.5" width="36" height="19" rx="5"/><text x="7.5" y="4">mo</text><use href="#sc" x="30" y="5.5"/><use href="#pl" x="45"/></g>
<g id="e-mn" class="el" transform="translate(518,5791.5)"><rect y="-9.5" width="36" height="19" rx="5"/><text x="7.5" y="4">mn</text><use href="#sc" x="30" y="5.5"/><use href="#pl" x="45"/></g>
<g id="e-mtext" class="el" transform="translate(518,5826.5)"><rect y="-9.5" width="42.4" height="19" rx="5"/><text x="7.5" y="4">mtext</text><use href="#sc" x="36.4" y="5.5"/><use href="#pl" x="51.4"/></g>
<g id="e-ms" class="el" transform="translate(518,5861.5)"><rect y="-9.5" width="36" height="19" rx="5"/><text x="7.5" y="4">ms</text><use href="#sc" x="30" y="5.5"/><use href="#pl" x="45"/></g>

<g id="e-mrow" class="el" transform="translate(518,5947.5)"><rect y="-9.5" width="42.4" height="19" rx="5"/><text x="7.5" y="4">mrow</text><use href="#sc" x="36.4" y="5.5"/><use href="#pl" x="51.4"/></g>
<g id="e-mfrac" class="el" transform="translate(518,5982.5)"><rect y="-9.5" width="43" height="19" rx="5"/><text x="7.5" y="4">mfrac</text><use href="#sc" x="37" y="5.5"/><use href="#pl" x="52"/></g>
<g id="e-msqrt" class="el" transform="translate(518,6017.5)"><rect y="-9.5" width="43" height="19" rx="5"/><text x="7.5" y="4">msqrt</text><use href="#sc" x="37" y="5.5"/><use href="#pl" x="52"/></g>
<g id="e-mroot" class="el" transform="translate(518,6052.5)"><rect y="-9.5" width="43.6" height="19" rx="5"/><text x="7.5" y="4">mroot</text><use href="#sc" x="37.6" y="5.5"/><use href="#pl" x="52.6"/></g>
<g id="e-mpadded" class="el" transform="translate(518,6087.5)"><rect y="-9.5" width="60.7" height="19" rx="5"/><text x="7.5" y="4">mpadded</text><use href="#sc" x="54.7" y="5.5"/><use href="#pl" x="69.7"/></g>
<g id="e-mphantom" class="el" transform="translate(518,6122.5)"><rect y="-9.5" width="66.6" height="19" rx="5"/><text x="7.5" y="4">mphantom</text><use href="#sc" x="60.6" y="5.5"/><use href="#pl" x="75.6"/></g>
<g id="e-mfenced" class="el" transform="translate(518,6157.5)"><rect y="-9.5" width="57.2" height="19" rx="5"/><text x="7.5" y="4">mfenced</text><use href="#sc" x="51.2" y="5.5"/><use href="#pl" x="66.2"/></g>
<g id="e-menclose" class="el" transform="translate(518,6192.5)"><rect y="-9.5" width="61.9" height="19" rx="5"/><text x="7.5" y="4">menclose</text><use href="#sc" x="55.9" y="5.5"/><use href="#pl" x="70.9"/></g>

<g id="e-msub" class="el" transform="translate(518,6278.5)"><rect y="-9.5" width="42.4" height="19" rx="5"/><text x="7.5" y="4">msub</text><use href="#sc" x="36.4" y="5.5"/><use href="#pl" x="51.4"/></g>
<g id="e-msup" class="el" transform="translate(518,6313.5)"><rect y="-9.5" width="42.4" height="19" rx="5"/><text x="7.5" y="4">msup</text><use href="#sc" x="36.4" y="5.5"/><use href="#pl" x="51.4"/></g>
<g id="e-msubsup" class="el" transform="translate(518,6348.5)"><rect y="-9.5" width="59.5" height="19" rx="5"/><text x="7.5" y="4">msubsup</text><use href="#sc" x="53.5" y="5.5"/><use href="#pl" x="68.5"/></g>
<g id="e-munder" class="el" transform="translate(518,6383.5)"><rect y="-9.5" width="52.4" height="19" rx="5"/><text x="7.5" y="4">munder</text><use href="#sc" x="46.4" y="5.5"/><use href="#pl" x="61.4"/></g>
<g id="e-mover" class="el" transform="translate(518,6418.5)"><rect y="-9.5" width="45.9" height="19" rx="5"/><text x="7.5" y="4">mover</text><use href="#sc" x="39.9" y="5.5"/><use href="#pl" x="54.9"/></g>
<g id="e-munderover" class="el" transform="translate(518,6453.5)"><rect y="-9.5" width="73.1" height="19" rx="5"/><text x="7.5" y="4">munderover</text><use href="#sc" x="67.1" y="5.5"/><use href="#pl" x="82.1"/></g>
<g id="e-mmultiscripts" class="el" transform="translate(518,6488.5)"><rect y="-9.5" width="78.3" height="19" rx="5"/><text x="7.5" y="4">mmultiscripts</text><use href="#sc" x="72.3" y="5.5"/><use href="#pl" x="87.3"/></g>

<g id="e-mtable" class="el" transform="translate(518,6574.5)"><rect y="-9.5" width="48.3" height="19" rx="5"/><text x="7.5" y="4">mtable</text><use href="#sc" x="42.3" y="5.5"/><use href="#pl" x="57.3"/></g>
<g id="e-maligngroup" class="el" transform="translate(518,6609.5)"><rect y="-9.5" width="69.5" height="19" rx="5"/><text x="7.5" y="4">maligngroup</text><use href="#sc" x="63.5" y="5.5"/><use href="#pl" x="78.5"/></g>
<g id="e-malignmark" class="el" transform="translate(518,6644.5)"><rect y="-9.5" width="70.5" height="19" rx="5"/><text x="7.5" y="4">malignmark</text><use href="#sc" x="64.5" y="5.5"/><use href="#pl" x="79.5"/></g>

<g id="e-mspace" class="el" transform="translate(433,6686.5)"><rect y="-9.5" width="53.6" height="19" rx="5"/><text x="7.5" y="4">mspace</text><use href="#sc" x="47.6" y="5.5"/><use href="#pl" x="62.6"/></g>
<g id="e-maction" class="el" transform="translate(433,6721.5)"><rect y="-9.5" width="53.6" height="19" rx="5"/><text x="7.5" y="4">maction</text><use href="#sc" x="47.6" y="5.5"/><use href="#pl" x="62.6"/></g>
<g id="e-merror" class="el" transform="translate(433,6756.5)"><rect y="-9.5" width="47.7" height="19" rx="5"/><text x="7.5" y="4">merror</text><use href="#sc" x="41.7" y="5.5"/><use href="#pl" x="56.7"/></g>
<g id="e-mstyle" class="el" transform="translate(433,6791.5)"><rect y="-9.5" width="47.1" height="19" rx="5"/><text x="7.5" y="4">mstyle</text><use href="#sc" x="41.1" y="5.5"/><use href="#pl" x="56.1"/></g>

<g id="e-annotation" class="el" transform="translate(348,6885.5)"><rect y="-9.5" width="66" height="19" rx="5"/><text x="7.5" y="4">annotation</text><use href="#sc" x="60" y="5.5"/><use href="#pl" x="75"/></g>
<g id="e-annotation-xml" class="el" transform="translate(348,6920.5)"><rect y="-9.5" width="86" height="19" rx="5"/><text x="7.5" y="4">annotation-xml</text><use href="#sc" x="80" y="5.5"/><use href="#pl" x="95"/></g>
</svg>
